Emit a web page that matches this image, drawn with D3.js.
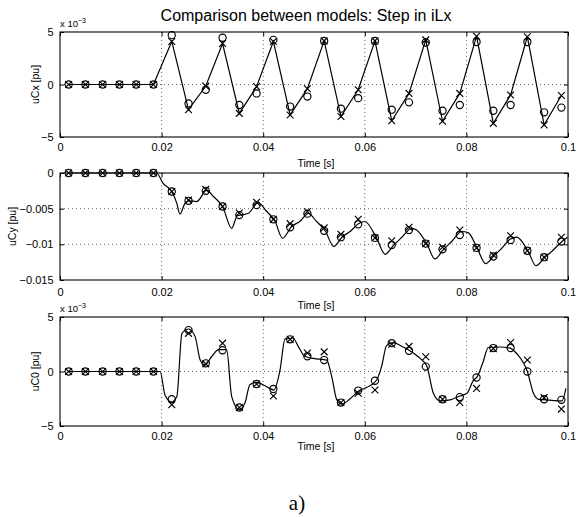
<!DOCTYPE html>
<html>
<head>
<meta charset="utf-8">
<script src="https://cdn.jsdelivr.net/npm/d3@7"></script>
<style>
  html, body { margin: 0; padding: 0; background: #fff; }
  svg { display: block; }
  text { font-family: "Liberation Sans", Arial, Helvetica, sans-serif; fill: #000; }
</style>
</head>
<body>
<svg id="chart" width="576" height="517"></svg>
<script>
// ---------------- DATA ----------------
const sampleT = [0.0017, 0.0050, 0.0084, 0.0117, 0.0150, 0.0184, 0.0220, 0.0253, 0.0287, 0.0320,
                 0.0353, 0.0387, 0.0420, 0.0453, 0.0487, 0.0520, 0.0553, 0.0587, 0.0620, 0.0653,
                 0.0687, 0.0720, 0.0753, 0.0787, 0.0820, 0.0853, 0.0887, 0.0920, 0.0953, 0.0987];

// uCx (x 10^-3 pu)
const uCxCircle = [0, 0, 0, 0, 0, 0, 4.7, -1.8, -0.5, 4.45, -1.95, -0.85, 4.25, -2.1, -1.15, 4.15,
                   -2.3, -1.3, 4.15, -2.4, -1.7, 4.0, -2.5, -1.95, 4.05, -2.5, -1.95, 4.05, -2.65, -2.2];
const uCxCross  = [0, 0, 0, 0, 0, 0, 4.1, -2.4, -0.15, 3.9, -2.75, -0.2, 4.1, -2.9, -0.4, 4.15,
                   -3.05, -0.5, 4.15, -3.45, -0.85, 4.25, -3.5, -0.85, 4.6, -3.7, -1.0, 4.55, -3.85, -1.05];

// uCy (pu)
const uCyCircle = [0, 0, 0, 0, 0, 0, -0.0026, -0.0039, -0.0025, -0.0047, -0.0059, -0.0045, -0.0065, -0.0076,
                   -0.0057, -0.0081, -0.0090, -0.0072, -0.0091, -0.0101, -0.0080, -0.0099, -0.0107, -0.0087,
                   -0.0105, -0.0117, -0.0094, -0.0109, -0.0118, -0.0096];
const uCyCross  = [0, 0, 0, 0, 0, 0, -0.0026, -0.0038, -0.0023, -0.0047, -0.0056, -0.0041, -0.0065, -0.0071,
                   -0.0054, -0.0077, -0.0086, -0.0065, -0.0091, -0.0095, -0.0076, -0.0099, -0.0104, -0.0080,
                   -0.0105, -0.0115, -0.0088, -0.0109, -0.0118, -0.0090];
const uCyLineT = [0.0017, 0.019, 0.0203, 0.022, 0.023, 0.0236, 0.0246, 0.0254, 0.0269, 0.0289, 0.0302, 0.032,
                  0.0338, 0.0349, 0.0371, 0.039, 0.0407, 0.0423, 0.0438, 0.0456, 0.0472, 0.0489, 0.0505, 0.0522,
                  0.0539, 0.0555, 0.0571, 0.0589, 0.060, 0.0623, 0.064, 0.0657, 0.0673, 0.0692, 0.0702, 0.0722,
                  0.0738, 0.0755, 0.0771, 0.0791, 0.0804, 0.0821, 0.0838, 0.0853, 0.0869, 0.0886, 0.0899, 0.0921,
                  0.0937, 0.0955, 0.0971, 0.0988, 0.0999];
const uCyLineV = [0, 0, -0.00145, -0.0026, -0.00425, -0.00575, -0.00425, -0.0039, -0.0040, -0.0024, -0.0033, -0.0047,
                  -0.00775, -0.0060, -0.00565, -0.00415, -0.0054, -0.0067, -0.00915, -0.0075, -0.0068, -0.00565, -0.0068, -0.0081,
                  -0.0103, -0.0090, -0.0082, -0.00705, -0.0068, -0.0091, -0.0114, -0.0101, -0.0090, -0.00775, -0.0080, -0.0099,
                  -0.01205, -0.0107, -0.0096, -0.0082, -0.0084, -0.0105, -0.0127, -0.0117, -0.0106, -0.0093, -0.0090, -0.0109,
                  -0.0130, -0.0118, -0.0108, -0.0096, -0.0090];

// uC0 (x 10^-3 pu)
const uC0Circle = [0, 0, 0, 0, 0, 0, -2.55, 3.8, 0.75, 1.95, -3.3, -1.15, -1.6, 2.95, 1.4, 1.05,
                   -2.85, -1.75, -0.85, 2.6, 1.9, 0.45, -2.55, -2.35, -0.55, 2.15, 2.15, 0.0, -2.55, -2.6];
const uC0Cross  = [0, 0, 0, 0, 0, 0, -3.05, 3.5, 0.7, 2.6, -3.3, -1.15, -2.25, 2.95, 1.7, 1.8,
                   -2.85, -2.0, -1.7, 2.5, 2.3, 1.35, -2.55, -2.85, -1.55, 2.1, 2.65, 1.05, -2.4, -3.45];
const uC0LineT = [0.0017, 0.0197, 0.0207, 0.022, 0.023, 0.024, 0.0253, 0.0266, 0.0276, 0.0285, 0.0299, 0.0312,
                  0.0328, 0.0338, 0.0353, 0.0364, 0.0374, 0.0387, 0.0407, 0.0421, 0.0433, 0.0443, 0.0459, 0.0469,
                  0.0482, 0.0499, 0.0525, 0.0535, 0.0545, 0.0555, 0.0571, 0.0589, 0.0604, 0.0623, 0.0633, 0.0643,
                  0.0656, 0.0673, 0.0689, 0.0709, 0.0722, 0.0735, 0.0748, 0.0768, 0.0787, 0.0801, 0.0814, 0.0821,
                  0.0833, 0.0843, 0.0866, 0.0886, 0.0899, 0.092, 0.0932, 0.0942, 0.0958, 0.0988, 0.0996];
const uC0LineV = [0, 0, -2.2, -2.8, -2.3, 3.5, 3.9, 3.2, 1.05, 0.6, 1.4, 2.0,
                  2.0, -2.3, -3.5, -2.9, -1.2, -1.0, -1.4, -1.7, 0.1, 3.0, 3.05, 2.3,
                  1.4, 1.2, 1.05, -0.5, -2.6, -3.0, -2.5, -1.75, -1.45, -0.8, 0.45, 2.4,
                  2.65, 2.3, 1.9, 1.2, 0.5, -2.0, -2.7, -2.6, -2.25, -2.0, -0.8, -0.5,
                  0.9, 2.2, 2.25, 2.15, 1.65, 0.0, -2.0, -2.55, -2.6, -2.7, -1.55];

const xTicks = [0, 0.02, 0.04, 0.06, 0.08, 0.1];
const xTickLabels = ["0", "0.02", "0.04", "0.06", "0.08", "0.1"];
const uCxTicks = [-5, 0, 5];
const uCxTickLabels = ["\u22125", "0", "5"];
const uCyTicks = [-0.015, -0.01, -0.005, 0];
const uCyTickLabels = ["\u22120.015", "\u22120.01", "\u22120.005", "0"];
const uC0Ticks = [-5, 0, 5];
const uC0TickLabels = ["\u22125", "0", "5"];

const titleText = "Comparison between models: Step in iLx";
const xLabel = "Time [s]";

// ---------------- LAYOUT ----------------
const svg = d3.select("#chart");
const x = d3.scaleLinear().domain([0, 0.1]).range([60, 568]);

const panels = [
  { top: 32, bottom: 137, domain: [-5, 5], ticks: uCxTicks, tickLabels: uCxTickLabels,
    ylabel: "uCx [pu]", ylabelX: 39, exp: true, xPad: 6.5, timeY: 167,
    line: sampleT.map((t, i) => [t, uCxCross[i]]), curve: d3.curveLinear,
    circles: uCxCircle, crosses: uCxCross },
  { top: 173, bottom: 280, domain: [-0.015, 0], ticks: uCyTicks, tickLabels: uCyTickLabels,
    ylabel: "uCy [pu]", ylabelX: 16, exp: false, xPad: 8.5, timeY: 309,
    line: uCyLineT.map((t, i) => [t, uCyLineV[i]]), curve: d3.curveMonotoneX,
    circles: uCyCircle, crosses: uCyCross },
  { top: 317, bottom: 426, domain: [-5, 5], ticks: uC0Ticks, tickLabels: uC0TickLabels,
    ylabel: "uC0 [pu]", ylabelX: 39, exp: true, xPad: 6, timeY: 450,
    line: uC0LineT.map((t, i) => [t, uC0LineV[i]]), curve: d3.curveMonotoneX,
    circles: uC0Circle, crosses: uC0Cross }
];

const x0 = x.range()[0], x1 = x.range()[1];

panels.forEach(p => {
  const y = d3.scaleLinear().domain(p.domain).range([p.bottom, p.top]);
  const g = svg.append("g");

  // dotted grid
  g.selectAll(".vgrid").data(xTicks.filter(t => t > 0 && t < 0.1)).join("line")
    .attr("x1", d => x(d)).attr("x2", d => x(d))
    .attr("y1", p.top).attr("y2", p.bottom)
    .attr("stroke", "#000").attr("stroke-width", 0.8).attr("stroke-dasharray", "1,3").attr("opacity", 0.75);
  g.selectAll(".hgrid").data(p.ticks.filter(t => t > p.domain[0] && t < p.domain[1])).join("line")
    .attr("x1", x0).attr("x2", x1)
    .attr("y1", d => y(d)).attr("y2", d => y(d))
    .attr("stroke", "#000").attr("stroke-width", 0.8).attr("stroke-dasharray", "1,3").attr("opacity", 0.75);

  // axes (inward ticks on all four sides)
  const fmtX = d => xTickLabels[xTicks.indexOf(d)];
  const fmtY = d => p.tickLabels[p.ticks.indexOf(d)];
  const axB = g.append("g").attr("transform", `translate(0,${p.bottom})`)
    .call(d3.axisBottom(x).tickValues(xTicks).tickFormat(fmtX).tickSizeInner(-4).tickSizeOuter(0).tickPadding(p.xPad));
  const axT = g.append("g").attr("transform", `translate(0,${p.top})`)
    .call(d3.axisTop(x).tickValues(xTicks).tickFormat("").tickSizeInner(-4).tickSizeOuter(0));
  const axL = g.append("g").attr("transform", `translate(${x0},0)`)
    .call(d3.axisLeft(y).tickValues(p.ticks).tickFormat(fmtY).tickSizeInner(-4).tickSizeOuter(0).tickPadding(6.5));
  const axR = g.append("g").attr("transform", `translate(${x1},0)`)
    .call(d3.axisRight(y).tickValues(p.ticks).tickFormat("").tickSizeInner(-4).tickSizeOuter(0));
  [axB, axT, axL, axR].forEach(a => {
    a.select(".domain").remove();
    a.selectAll("line").attr("stroke", "#000");
    a.selectAll("text").attr("font-size", 11).attr("font-family", "'Liberation Sans', Arial, sans-serif").attr("fill", "#000");
  });

  // frame
  g.append("rect").attr("x", x0).attr("y", p.top).attr("width", x1 - x0).attr("height", p.bottom - p.top)
    .attr("fill", "none").attr("stroke", "#000").attr("stroke-width", 1.1);

  // line
  g.append("path").datum(p.line)
    .attr("fill", "none").attr("stroke", "#000").attr("stroke-width", 1.2)
    .attr("d", d3.line().x(d => x(d[0])).y(d => y(d[1])).curve(p.curve));

  // circles
  g.selectAll(".mk-o").data(sampleT.map((t, i) => [t, p.circles[i]])).join("circle")
    .attr("cx", d => x(d[0])).attr("cy", d => y(d[1])).attr("r", 3.6)
    .attr("fill", "none").attr("stroke", "#000").attr("stroke-width", 1.15);

  // crosses
  const s = 3.4;
  g.selectAll(".mk-x").data(sampleT.map((t, i) => [t, p.crosses[i]])).join("path")
    .attr("d", d => {
      const cx = x(d[0]), cy = y(d[1]);
      return `M${cx - s},${cy - s}L${cx + s},${cy + s}M${cx - s},${cy + s}L${cx + s},${cy - s}`;
    })
    .attr("fill", "none").attr("stroke", "#000").attr("stroke-width", 1.15);

  // labels
  svg.append("text").attr("transform", `translate(${p.ylabelX},${(p.top + p.bottom) / 2}) rotate(-90)`)
    .attr("text-anchor", "middle").attr("font-size", 10.5).text(p.ylabel);
  svg.append("text").attr("x", 316).attr("y", p.timeY).attr("text-anchor", "middle")
    .attr("font-size", 10.5).text(xLabel);
  if (p.exp) {
    const e = svg.append("text").attr("x", x0).attr("y", p.top - 5).attr("font-size", 9.5);
    e.append("tspan").text("x 10");
    e.append("tspan").attr("dy", -4).attr("font-size", 7).text("\u22123");
  }
});

svg.append("text").attr("x", 306).attr("y", 20.5).attr("text-anchor", "middle")
  .attr("font-size", 16).text(titleText);

svg.append("text").attr("x", 297).attr("y", 510).attr("text-anchor", "middle")
  .style("font-family", "'Liberation Serif', 'Times New Roman', serif").attr("font-size", 21).text("a)");
</script>
</body>
</html>
